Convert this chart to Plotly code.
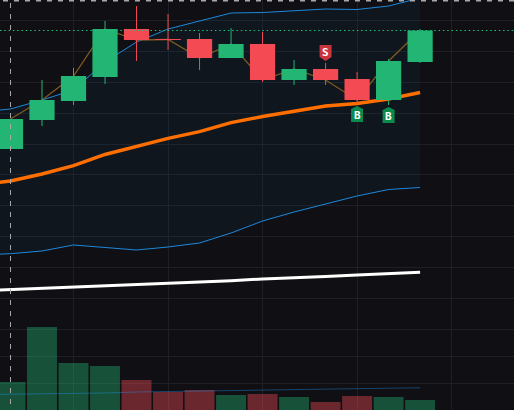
import plotly.graph_objects as go

# Bar index, session -1 is the one just off the left edge
idx = [-1, 0, 1, 2, 3, 4, 5, 6, 7, 8, 9, 10, 11, 12, 13]
bars = idx[1:]

open_ = [181, 210, 229, 253, 301, 290.5, 291, 272, 286, 250, 261, 251, 230, 268]
high = [211, 250, 262, 309, 324, 316, 297, 302, 298, 270, 267, 258, 271, 301]
low = [181, 204, 225, 246, 269, 280, 260, 272, 248, 245, 245, 226, 225, 267]
close = [211, 230, 254, 301, 290, 290.5, 272, 286, 250, 261, 250, 230, 269, 299.5]

band_upper = [218, 221, 230, 240, 268, 288, 301, 309, 317, 317.5, 319.5, 321, 320.5, 324, 332]
band_lower = [75, 76.3, 79, 85, 82.5, 80, 83, 87, 97, 109, 118, 126, 134, 140.5, 142.5]
ema_fast = [145, 149, 156, 164.3, 175.5, 183.3, 191.7, 198.3, 207.3, 213.5, 219, 224, 226.5, 231, 237.5]
ema_slow = [39.2, 40.4, 41.7, 43.1, 44.4, 45.6, 46.8, 48, 49.2, 51.1, 52.1, 53.6, 55, 56.3, 57.7]

volume = [28, 83, 47, 44, 30, 18, 20, 15, 16, 13, 8, 14, 13, 10]
volume_ma = [15.4, 15.7, 16, 16.5, 17, 18, 18.5, 19, 20, 20.5, 20.8, 21.1, 21.4, 21.8, 22.2]

buy_signals = [11, 12]
sell_signals = [10]
crosshair_bar = 0

GREEN = "#22b573"
RED = "#f44a54"
BLUE = "#1e88dc"
BG = "#100f14"
GRID = "#1f2026"

up = [c > o for o, c in zip(open_, close)]
candle_colors = [GREEN if u else RED for u in up]

fig = go.Figure()

# Envelope, filled between the two bands
fig.add_trace(go.Scatter(x=idx, y=band_upper, mode="lines",
                         line=dict(color=BLUE, width=1)))
fig.add_trace(go.Scatter(x=idx, y=band_lower, mode="lines", fill="tonexty",
                         fillcolor="rgba(8,90,130,0.10)",
                         line=dict(color=BLUE, width=1)))

# Moving averages and close line, all kept beneath the candles
fig.add_trace(go.Scatter(x=idx, y=ema_fast, mode="lines",
                         line=dict(color="#ff6f00", width=3.4)))
fig.add_trace(go.Scatter(x=idx, y=ema_slow, mode="lines",
                         line=dict(color="#ffffff", width=3)))
fig.add_trace(go.Scatter(x=bars, y=close, mode="lines",
                         line=dict(color="#7f5a20", width=1.3)))

# Wicks, one broken line per direction
for want_up, colour in ((True, GREEN), (False, RED)):
    wx, wy = [], []
    for b, h, l, u in zip(bars, high, low, up):
        if u == want_up:
            wx += [b, b, None]
            wy += [l, h, None]
    fig.add_trace(go.Scatter(x=wx, y=wy, mode="lines", zorder=1,
                             line=dict(color=colour, width=1)))

# Candle bodies; a flat open/close still gets a hairline outline
fig.add_trace(go.Bar(
    x=bars, base=[min(o, c) for o, c in zip(open_, close)],
    y=[abs(c - o) for o, c in zip(open_, close)],
    width=0.8, zorder=2,
    marker=dict(color=candle_colors,
                line=dict(color=candle_colors, width=[1 if o == c else 0 for o, c in zip(open_, close)])),
))

# Volume pane
fig.add_trace(go.Bar(
    x=bars, y=volume, yaxis="y2", width=0.95,
    marker=dict(color=candle_colors, opacity=0.4, line=dict(width=0)),
))
fig.add_trace(go.Scatter(x=idx, y=volume_ma, yaxis="y2", mode="lines",
                         line=dict(color="rgba(33,150,243,0.4)", width=1)))

# Signal flags sit just outside the wick they refer to, sized in pixels
BUY_FLAG = "M 0 -2 L 6 -5 L 6 -18 L -6 -18 L -6 -5 Z"
SELL_FLAG = "M 0 2 L 6 6 L 6 18 L -6 18 L -6 6 Z"

shapes = []
annotations = []
label_font = dict(family="DejaVu Sans Mono", size=11, color="#ffffff", weight="bold")
for b in buy_signals:
    shapes.append(dict(type="path", xref="x", yref="y", xsizemode="pixel", ysizemode="pixel",
                       xanchor=b, yanchor=low[b], path=BUY_FLAG,
                       fillcolor="#0b8a4d", line=dict(width=0), layer="above"))
    annotations.append(dict(x=b, y=low[b], yshift=-11, text="B", showarrow=False, font=label_font))
for b in sell_signals:
    shapes.append(dict(type="path", xref="x", yref="y", xsizemode="pixel", ysizemode="pixel",
                       xanchor=b, yanchor=high[b], path=SELL_FLAG,
                       fillcolor="#c8353c", line=dict(width=0), layer="above"))
    annotations.append(dict(x=b, y=high[b], yshift=11, text="S", showarrow=False, font=label_font))

# Last-price guide and crosshair; the small overshoot sets the dash phase
shapes.append(dict(type="line", xref="paper", yref="y", x0=0, x1=1, y0=close[-1], y1=close[-1],
                   line=dict(color="#1fc47a", width=1, dash="1.5px,2.8px"), layer="above"))
shapes.append(dict(type="line", xref="x", yref="paper", x0=crosshair_bar, x1=crosshair_bar, y0=1.0195, y1=0,
                   line=dict(color="#a9a9a9", width=1, dash="5px,6px"), layer="above"))
shapes.append(dict(type="line", xref="paper", yref="paper", x0=-0.0156, x1=1, y0=1, y1=1,
                   line=dict(color="#a9a9a9", width=3, dash="5px,6px"), layer="above"))

fig.update_layout(
    width=514, height=410,
    margin=dict(l=0, r=0, t=0, b=0),
    paper_bgcolor=BG, plot_bgcolor=BG,
    showlegend=False, hovermode=False, barmode="overlay",
    shapes=shapes, annotations=annotations,
    xaxis=dict(range=[-0.333, 15.98], anchor="y", showticklabels=False, ticks="",
               tickmode="array", tickvals=[2, 5, 8, 11, 14], gridcolor=GRID, gridwidth=1,
               showgrid=True, zeroline=False, showline=True, linecolor="#767676", linewidth=1),
    xaxis2=dict(matches="x", anchor="y2", overlaying="x", showticklabels=False, ticks="",
                tickmode="array", tickvals=[2, 5, 8, 11, 14], gridcolor=GRID, showgrid=True,
                zeroline=False),
    yaxis=dict(domain=[88 / 410, 1], range=[8, 330], tick0=32, dtick=30.8, gridcolor=GRID,
               showticklabels=False, ticks="", zeroline=False),
    yaxis2=dict(domain=[0, 87 / 410], range=[0, 87], tick0=0, dtick=26.7, gridcolor=GRID,
                showticklabels=False, ticks="", zeroline=False),
)

fig.write_html("out.html", config=dict(displayModeBar=False))
